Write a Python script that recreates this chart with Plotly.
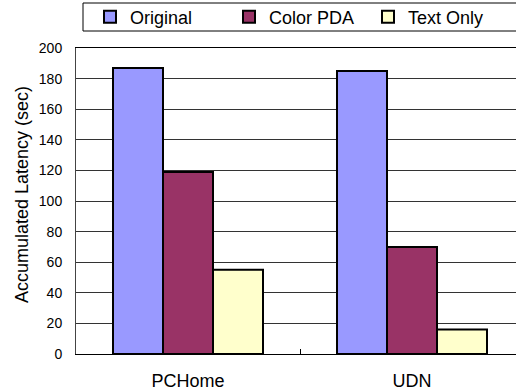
import plotly.graph_objects as go

categories = ["PCHome", "UDN"]
series_names = ["Original", "Color PDA", "Text Only"]
original = [187, 185]
color_pda = [119, 70]
text_only = [55, 16]
y_ticks = [0, 20, 40, 60, 80, 100, 120, 140, 160, 180, 200]
y_title = "Accumulated Latency (sec)"

colors = ["#9999FF", "#993366", "#FFFFCC"]
FONT = "Arial, Liberation Sans, sans-serif"

fig = go.Figure()
for name, vals, col in zip(series_names, [original, color_pda, text_only], colors):
    fig.add_trace(go.Bar(
        name=name, x=categories, y=vals,
        marker=dict(color=col, line=dict(color="black", width=2)),
    ))

W, H = 516, 392
ml, mr, mt, mb = 76, 0, 48, 38
pw = W - ml - mr
ph = H - mt - mb
band = 224.0

fig.update_layout(
    width=W, height=H,
    margin=dict(l=ml, r=mr, t=mt, b=mb, pad=0, autoexpand=False),
    paper_bgcolor="white", plot_bgcolor="white",
    barmode="group", bargap=74 / 224, bargroupgap=0,
    font=dict(family=FONT, color="black", size=18),
    showlegend=True,
    legend=dict(
        orientation="h", x=(90 - ml) / pw, xanchor="left",
        y=(H - mb - 17) / ph, yanchor="middle",
        font=dict(size=18, family=FONT),
        entrywidth=94, entrywidthmode="pixels",
        bgcolor="rgba(0,0,0,0)", borderwidth=0,
        itemclick=False, itemdoubleclick=False,
        traceorder="normal",
    ),
    shapes=[dict(
        type="rect", xref="paper", yref="paper",
        x0=(83 - ml) / pw, x1=1.05,
        y0=(H - mb - 31) / ph, y1=(H - mb - 3) / ph,
        line=dict(color="black", width=1), fillcolor="rgba(0,0,0,0)", layer="below",
    )],
    annotations=[dict(
        text=y_title, textangle=-90, showarrow=False,
        xref="paper", yref="paper", x=0, xshift=22 - ml, xanchor="center",
        y=(H - mb - 195) / ph, yanchor="middle",
        font=dict(size=18, family=FONT, color="black"),
    )],
    xaxis=dict(
        type="category", range=[-0.5, -0.5 + pw / band],
        showline=True, linecolor="black", linewidth=1, mirror=True,
        ticks="inside", ticklen=5, tickcolor="black", tickson="boundaries",
        showgrid=False, tickfont=dict(size=18, family=FONT),
        ticklabelstandoff=10,
    ),
    yaxis=dict(
        range=[0, 200], tickvals=y_ticks,
        showline=True, linecolor="#444", linewidth=1,
        showgrid=True, gridcolor="#333", gridwidth=1,
        ticks="", tickfont=dict(size=14, family=FONT),
        ticklabelstandoff=10, zeroline=False,
    ),
)

fig.write_html("out.html", config={"displayModeBar": False},
               post_script="document.body.style.margin='0';")
